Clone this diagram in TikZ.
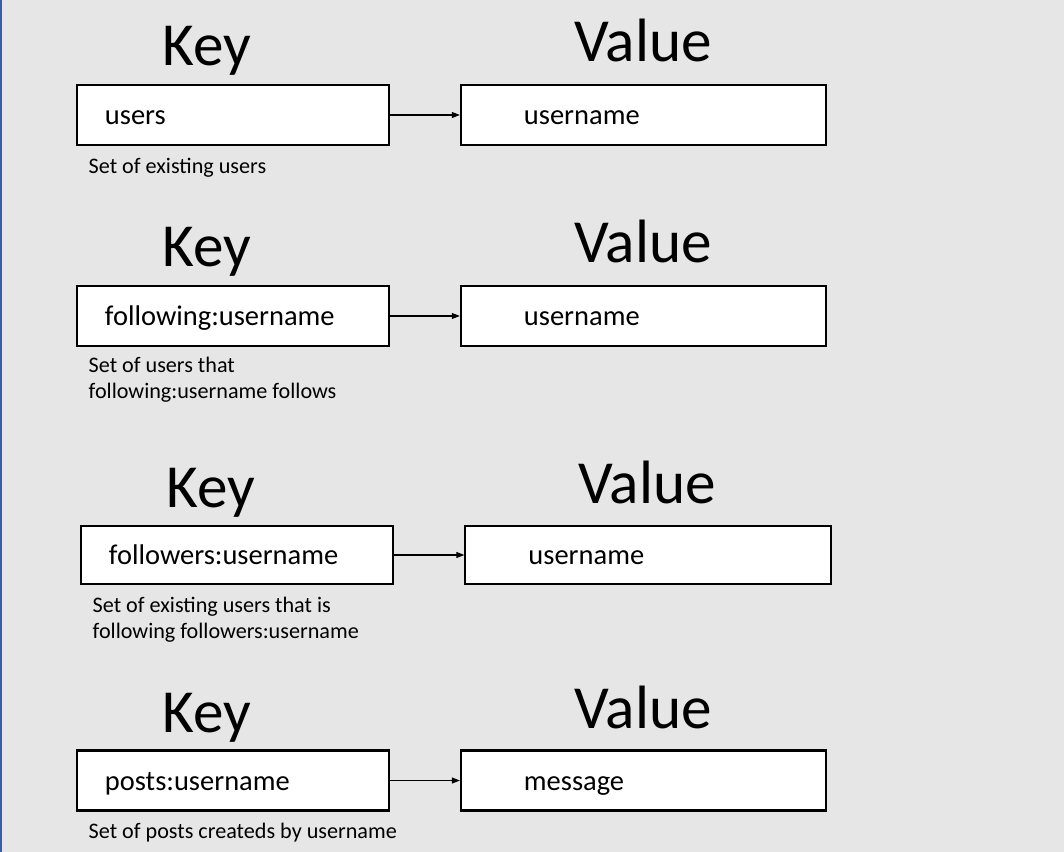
\documentclass[tikz,border=0pt]{standalone}
\usepackage{fontspec}
\setmainfont{Carlito}
\usetikzlibrary{arrows.meta,positioning}
\definecolor{bggray}{HTML}{E6E6E6}
\definecolor{edgeblue}{HTML}{3A5DA8}
\tikzset{
  keybox/.style ={draw=black,fill=white,line width=0.6pt,minimum width=3.12cm,
                  minimum height=0.6cm,inner xsep=0.28cm,text width=2.56cm,
                  text height=6.4pt,text depth=0.8pt,
                  align=left,font=\fontsize{8.1}{9.7}\selectfont},
  valbox/.style ={keybox,minimum width=3.65cm,inner xsep=0.63cm,text width=2.39cm},
  ttl/.style    ={font=\fontsize{17.4}{20}\selectfont,inner sep=0pt,anchor=base},
  desc/.style   ={font=\fontsize{6.3}{7.5}\selectfont,align=left,
                  anchor=north west,inner sep=0pt},
  link/.style   ={-{Triangle[length=0.8mm,width=0.6mm]},line width=0.3pt},
}

\begin{document}
\begin{tikzpicture}[x=0.01cm, y=-0.01cm]
%% page background
\fill[bggray] (0,0) rectangle (1064,852);
\fill[edgeblue] (0,0) rectangle (2,852);
%% users
\node[ttl] (key1) at (207,66) {Key};
\node[ttl] (val1) at (643,62) {Value};
\node[keybox] (k1) at (233,115) {users};
\node[valbox] (v1) at (643.5,115) {username};
\draw[link] (k1) -- (v1);
\node[desc] (d1) at (88,157) {Set of existing users};
%% following:username
\node[ttl] (key2) at (207,267) {Key};
\node[ttl] (val2) at (643,263) {Value};
\node[keybox] (k2) at (233,316) {following:username};
\node[valbox] (v2) at (643.5,316) {username};
\draw[link] (k2) -- (v2);
\node[desc] (d2) at (88,356) {Set of users that\\following:username follows};
%% followers:username
\node[ttl] (key3) at (211,507) {Key};
\node[ttl] (val3) at (647,503) {Value};
\node[keybox,minimum height=0.58cm] (k3) at (237,555) {followers:username};
\node[valbox,minimum height=0.58cm] (v3) at (648,555) {username};
\draw[link] (k3) -- (v3);
\node[desc] (d3) at (92,596) {Set of existing users that is\\following followers:username};
%% posts:username
\node[ttl] (key4) at (207,732) {Key};
\node[ttl] (val4) at (643,728) {Value};
\node[keybox] (k4) at (233,780.5) {posts:username};
\node[valbox] (v4) at (643.5,780.5) {message};
\draw[link] (k4) -- (v4);
\node[desc] (d4) at (88,822) {Set of posts createds by username};
\end{tikzpicture}
\end{document}
